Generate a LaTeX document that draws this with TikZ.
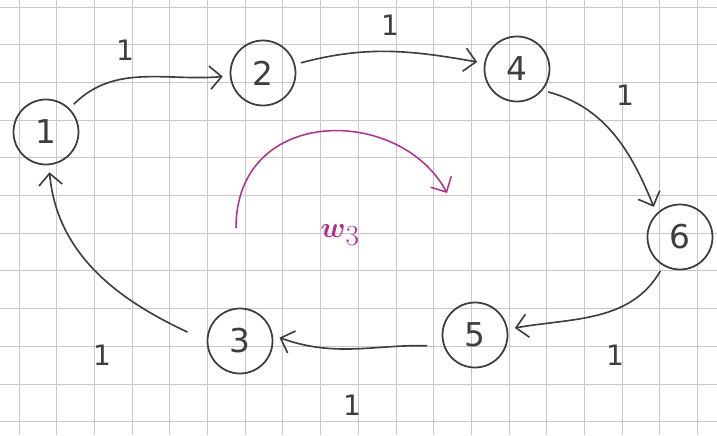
\documentclass[tikz,border=0pt]{standalone}
\usepackage{amsmath, amssymb}
\usepackage{fontspec}
\setmainfont{DejaVu Sans}
\usepackage{tikz}
\usetikzlibrary{arrows.meta}
\definecolor{penink}{RGB}{62,62,62}
\definecolor{gridink}{RGB}{200,200,200}
\definecolor{markink}{RGB}{178,45,140}

\begin{document}
\begin{tikzpicture}[x=0.03cm, y=0.03cm,
    vertex/.style={draw=penink, circle, line width=1.5pt, minimum size=1.95cm,
      inner sep=0pt, text=penink, font=\fontsize{28}{30}\selectfont},
    weight/.style={text=penink, font=\fontsize{24}{26}\selectfont},
    edge/.style={draw=penink, line width=1.4pt, shorten <=5pt, shorten >=6pt,
      -{Straight Barb[length=3.5mm,width=7mm]}},
    markedge/.style={draw=markink, line width=1.3pt,
      -{Straight Barb[length=3.5mm,width=7mm]}}]
  \useasboundingbox (0,0) rectangle (717,435);
  % grid paper
  \foreach \gx in {0,...,18}
    \draw[gridink, line width=0.8pt] ({19+37.7*\gx},0) -- ({19+37.7*\gx},435);
  \foreach \gy in {0,...,11}
    \draw[gridink, line width=0.8pt] (0,{428-37.7*\gy}) -- (717,{428-37.7*\gy});

  % vertices
  \node[vertex] (n1) at (46,303) {1};
  \node[vertex] (n2) at (263,362) {2};
  \node[vertex] (n4) at (517,366) {4};
  \node[vertex] (n6) at (680,198) {6};
  \node[vertex] (n5) at (475,100) {5};
  \node[vertex] (n3) at (240,94) {3};

  % weights
  \node[weight] (l12) at (125,385) {1};
  \node[weight] (l24) at (390,410) {1};
  \node[weight] (l46) at (625,340) {1};
  \node[weight] (l65) at (615,80) {1};
  \node[weight] (l53) at (352,30) {1};
  \node[weight] (l31) at (102,80) {1};

  % cycle
  \draw[edge] (n1) to[out=45, in=185] (n2);
  \draw[edge] (n2) to[out=15, in=170] (n4);
  \draw[edge] (n4.-40) to[out=-15, in=112] (n6.135);
  \draw[edge] (n6) to[out=-120, in=10] (n5);
  \draw[edge, shorten <=14pt] (n5.200) to[out=178, in=-20] (n3.10);
  \draw[edge, shorten <=18pt] (n3.180) to[out=155, in=-85] (n1);

  % marked arc
  \coordinate (mstart) at (236,207);
  \coordinate (mend) at (447,242);
  \draw[markedge] (mstart) .. controls (236,330) and (400,330) .. (mend);
  \node[text=markink, font=\fontsize{34}{36}\selectfont] (wlab) at (340,200) {$\boldsymbol{w}_3$};
\end{tikzpicture}
\end{document}
